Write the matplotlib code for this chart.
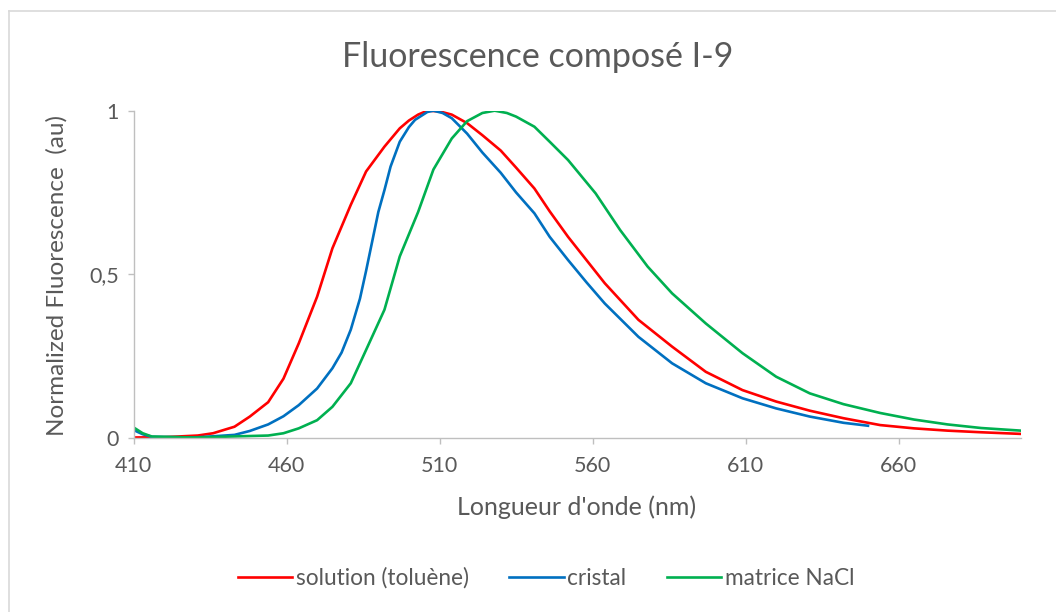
import matplotlib
matplotlib.use("Agg")
import matplotlib.pyplot as plt
from matplotlib.lines import Line2D

plt.rcParams["font.family"] = ["Lato", "DejaVu Sans"]

# spectra (wavelength nm, normalized intensity)
solution_nm = [410, 420, 431, 436, 443, 448, 454, 459, 464, 470, 475, 481, 486, 492,
               497, 500, 503, 506, 510, 514, 519, 524, 530, 535, 541, 546, 552, 558, 564,
               575, 586, 597, 609, 620, 631, 642, 654, 665, 676, 687, 700]
solution_val = [0.0, 0.001, 0.006, 0.013, 0.033, 0.064, 0.108, 0.18, 0.288, 0.431, 0.579,
                0.712, 0.814, 0.89, 0.946, 0.970, 0.988, 1.0, 0.998, 0.988, 0.962, 0.925,
                0.878, 0.826, 0.762, 0.692, 0.614, 0.543, 0.472, 0.36, 0.278, 0.201,
                0.145, 0.11, 0.082, 0.059, 0.038, 0.028, 0.021, 0.016, 0.011]

cristal_nm = [410, 413, 416, 430, 443, 448, 454, 459, 464, 470, 475, 478, 481, 484, 486,
              488, 490, 492, 494, 497, 500, 502, 506, 508, 511, 514, 519, 524, 530, 535,
              541, 546, 552, 558, 564, 575, 586, 597, 609, 620, 631, 642, 650]
cristal_val = [0.023, 0.01, 0.002, 0.0, 0.008, 0.02, 0.04, 0.065, 0.099, 0.15, 0.212,
               0.26, 0.33, 0.425, 0.51, 0.6, 0.69, 0.757, 0.829, 0.905, 0.95, 0.972,
               0.996, 1.0, 0.993, 0.977, 0.93, 0.872, 0.81, 0.75, 0.686, 0.614, 0.543,
               0.475, 0.41, 0.308, 0.227, 0.166, 0.12, 0.089, 0.064, 0.045, 0.036]

nacl_nm = [410, 413, 416, 430, 454, 459, 464, 470, 475, 481, 486, 492, 497, 503, 508,
           514, 519, 524, 528, 532, 535, 541, 546, 552, 561, 569, 578, 586, 597, 609, 620,
           631, 642, 654, 665, 676, 687, 700]
nacl_val = [0.031, 0.013, 0.003, 0.0, 0.006, 0.013, 0.028, 0.053, 0.094, 0.166, 0.268,
            0.391, 0.554, 0.69, 0.82, 0.915, 0.968, 0.993, 1.0, 0.993, 0.982, 0.951, 0.905,
            0.849, 0.747, 0.635, 0.523, 0.441, 0.349, 0.258, 0.186, 0.135, 0.102,
            0.075, 0.055, 0.04, 0.029, 0.021]

x_ticks = [410, 460, 510, 560, 610, 660]
y_ticks = [0, 0.5, 1]
y_tick_labels = ["0", "0,5", "1"]

text_col = "#595959"
axis_col = "#BFBFBF"

fig = plt.figure(figsize=(10.56, 6.12), dpi=100)
ax = fig.add_axes([133.5 / 1056, 1 - 437.5 / 612, (1021 - 133.5) / 1056, (437.5 - 110.7) / 612])

ax.plot(solution_nm, solution_val, color="#FF0000", lw=1.9, label="solution (toluène)")
ax.plot(cristal_nm, cristal_val, color="#0070C0", lw=1.9, label="cristal")
ax.plot(nacl_nm, nacl_val, color="#00B050", lw=1.9, label="matrice NaCl")

ax.set_xlim(410, 700)
ax.set_ylim(0, 1)
ax.set_xticks(x_ticks)
ax.set_xticklabels([str(t) for t in x_ticks])
ax.set_yticks(y_ticks)
ax.set_yticklabels(y_tick_labels)

for s in ["top", "right"]:
    ax.spines[s].set_visible(False)
for s in ["left", "bottom"]:
    ax.spines[s].set_color(axis_col)
    ax.spines[s].set_linewidth(1.0)
ax.tick_params(axis="both", colors=axis_col, labelcolor=text_col, labelsize=15.5,
               length=4.5, width=1.0, direction="out")
ax.tick_params(axis="x", pad=9)
ax.tick_params(axis="y", pad=6)

fig.text(538 / 1056, 1 - 57 / 612, "Fluorescence composé I-9", ha="center", va="center",
         fontsize=24.5, color=text_col)
fig.text(577 / 1056, 1 - 507 / 612, "Longueur d'onde (nm)", ha="center", va="center",
         fontsize=18, color=text_col)
fig.text(57 / 1056, 1 - 276 / 612, "Normalized Fluorescence  (au)", ha="center",
         va="center", rotation=90, fontsize=17.5, color=text_col)

leg = fig.legend(loc="center", bbox_to_anchor=(546 / 1056, 1 - 578 / 612), ncol=3,
                 frameon=False, fontsize=16.3, handlelength=2.4, handletextpad=0.15,
                 columnspacing=1.8)
for t in leg.get_texts():
    t.set_color(text_col)

# chart area border (top and left edges visible in the screenshot)
fig.add_artist(Line2D([9 / 1056, 9 / 1056], [0, 1 - 11 / 612], color="#D9D9D9", lw=1.2))
fig.add_artist(Line2D([9 / 1056, 1], [1 - 11 / 612, 1 - 11 / 612], color="#D9D9D9", lw=1.2))

fig.savefig("out.png", dpi=100)
